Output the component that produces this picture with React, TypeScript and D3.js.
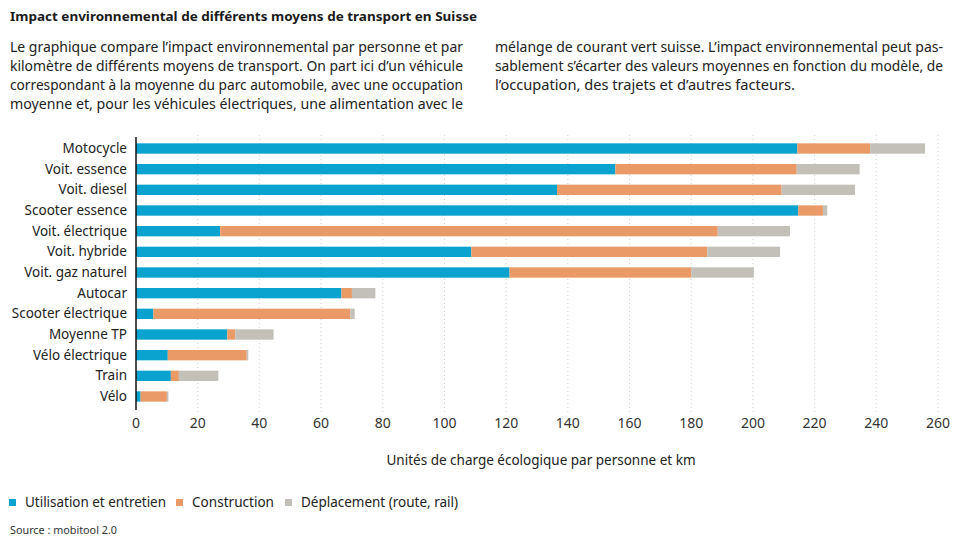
import React from "react";
import * as d3 from "d3";

const categories = [
  "Motocycle",
  "Voit. essence",
  "Voit. diesel",
  "Scooter essence",
  "Voit. électrique",
  "Voit. hybride",
  "Voit. gaz naturel",
  "Autocar",
  "Scooter électrique",
  "Moyenne TP",
  "Vélo électrique",
  "Train",
  "Vélo",
];
const utilisation = [214.4, 155.4, 136.5, 214.7, 27.3, 108.7, 121.1, 66.6, 5.6, 29.6, 10.3, 11.3, 1.5];
const construction = [23.6, 58.8, 72.8, 8.0, 161.3, 76.5, 58.9, 3.4, 63.9, 2.6, 25.6, 2.6, 8.5];
const deplacement = [17.8, 20.4, 23.8, 1.4, 23.4, 23.6, 20.3, 7.6, 1.4, 12.4, 0.5, 12.8, 0.5];
const seriesNames = ["Utilisation et entretien", "Construction", "Déplacement (route, rail)"];
const seriesColors = ["#0aa2cf", "#e99a66", "#c3c0b9"];
const xTicks = [0, 20, 40, 60, 80, 100, 120, 140, 160, 180, 200, 220, 240, 260];

const title = "Impact environnemental de différents moyens de transport en Suisse";
const leftText = [
  "Le graphique compare l’impact environnemental par personne et par",
  "kilomètre de différents moyens de transport. On part ici d’un véhicule",
  "correspondant à la moyenne du parc automobile, avec une occupation",
  "moyenne et, pour les véhicules électriques, une alimentation avec le",
];
const rightText = [
  "mélange de courant vert suisse. L’impact environnemental peut pas-",
  "sablement s’écarter des valeurs moyennes en fonction du modèle, de",
  "l’occupation, des trajets et d’autres facteurs.",
];
const axisTitle = "Unités de charge écologique par personne et km";
const source = "Source : mobitool 2.0";

const W = 966;
const H = 547;
const FONT = "'Noto Sans', 'DejaVu Sans', sans-serif";

export default function App() {
  const x = d3.scaleLinear().domain([0, 260]).range([136, 938]);
  const y = d3.scaleBand<string>().domain(categories).range([133, 412]).padding(0.5);

  const rows = categories.map((c, i) => ({
    cat: c,
    utilisation: utilisation[i],
    construction: construction[i],
    deplacement: deplacement[i],
  }));
  const stack = d3.stack<any>().keys(["utilisation", "construction", "deplacement"]);
  const layers = stack(rows);

  const leftWidths = [453, 453, 453, 453];
  const rightWidths = [448, 448, 300];
  const legendX = [9, 176, 285];
  const legendW = [141, 82, 157];

  return (
    <svg
      width={W}
      height={H}
      style={{ position: "absolute", left: 0, top: 0, background: "#fff" }}
      fontFamily={FONT}
    >
      <text x={10} y={21} fontSize={13} fontWeight={700} fill="#1a1a1a" textLength={467} lengthAdjust="spacingAndGlyphs">
        {title}
      </text>
      {leftText.map((t, i) => (
        <text key={"l" + i} x={10} y={51.5 + i * 19.2} fontSize={14} fill="#222" textLength={leftWidths[i]} lengthAdjust="spacingAndGlyphs">
          {t}
        </text>
      ))}
      {rightText.map((t, i) => (
        <text key={"r" + i} x={495} y={51.5 + i * 19.2} fontSize={14} fill="#222" textLength={rightWidths[i]} lengthAdjust="spacingAndGlyphs">
          {t}
        </text>
      ))}

      {xTicks.slice(1).map((t) => (
        <line key={"g" + t} x1={x(t)} x2={x(t)} y1={135} y2={412} stroke="#cfcfcf" strokeWidth={1} strokeDasharray="1,3" />
      ))}

      {layers.map((layer, li) => (
        <g key={"layer" + li} fill={seriesColors[li]}>
          {layer.map((d: any, i: number) => (
            <rect
              key={i}
              x={x(d[0])}
              y={y(categories[i])!}
              width={Math.max(0, x(d[1]) - x(d[0]))}
              height={y.bandwidth()}
            />
          ))}
        </g>
      ))}

      <line x1={136} x2={136} y1={137} y2={410} stroke="#111" strokeWidth={1.5} />

      {categories.map((c) => (
        <text key={c} x={127} y={y(c)! + y.bandwidth() / 2 + 4.5} fontSize={13.5} textAnchor="end" fill="#222">
          {c}
        </text>
      ))}

      {xTicks.map((t) => (
        <text key={"t" + t} x={x(t)} y={428} fontSize={14} textAnchor="middle" fill="#333">
          {t}
        </text>
      ))}

      <text x={541} y={465} fontSize={13.5} textAnchor="middle" fill="#222">
        {axisTitle}
      </text>

      {seriesNames.map((n, i) => (
        <g key={n}>
          <rect x={legendX[i]} y={499} width={7} height={7} fill={seriesColors[i]} />
          <text x={legendX[i] + 16} y={507} fontSize={14} fill="#222" textLength={legendW[i]} lengthAdjust="spacingAndGlyphs">
            {n}
          </text>
        </g>
      ))}

      <text x={10} y={534} fontSize={11} fill="#333" textLength={107} lengthAdjust="spacingAndGlyphs">
        {source}
      </text>
    </svg>
  );
}
